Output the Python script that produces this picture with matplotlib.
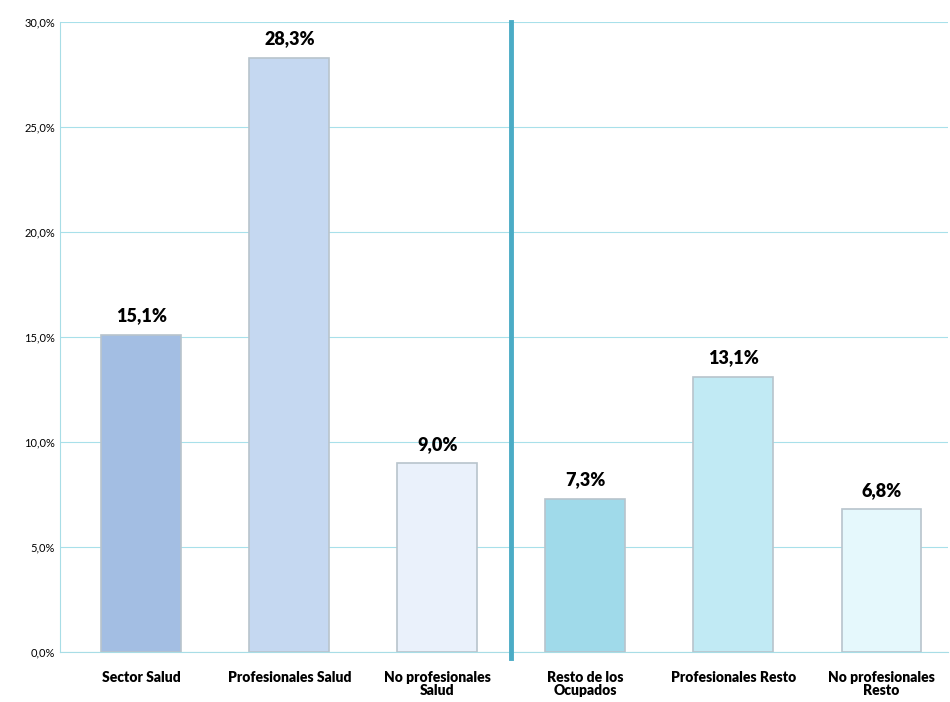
import matplotlib.pyplot as plt
from matplotlib.ticker import FuncFormatter

plt.rcParams['font.family'] = ['Lato', 'DejaVu Sans']

categorias = ['Sector Salud', 'Profesionales Salud', 'No profesionales\nSalud',
              'Resto de los\nOcupados', 'Profesionales Resto', 'No profesionales\nResto']
valores = [15.1, 28.3, 9.0, 7.3, 13.1, 6.8]
colores = ['#A3BEE3', '#C5D8F1', '#EAF1FB', '#A0DAEA', '#C1EAF4', '#E5F8FC']

fig = plt.figure(figsize=(9.5, 7.02), dpi=100)
ax = fig.add_axes([0.063, 0.0712, 0.935, 0.897])

x = range(len(valores))
ax.bar(x, valores, width=0.54, color=colores, edgecolor='#B8C4CC', linewidth=1.2, zorder=3)
for xi, v in zip(x, valores):
    ax.text(xi, v + 0.5, f'{v:.1f}%'.replace('.', ','), ha='center', va='bottom',
            fontsize=13, fontweight='heavy')

ax.axvline(2.5, ymin=-0.01, ymax=1, color='#4BACC6', linewidth=3.5, zorder=4, clip_on=False)

ax.set_xlim(-0.55, 5.45)
ax.set_ylim(0, 30)
ax.set_yticks([0, 5, 10, 15, 20, 25, 30])
ax.yaxis.set_major_formatter(FuncFormatter(lambda v, p: f'{v:.1f}%'.replace('.', ',')))
ax.set_xticks(list(x))
ax.set_xticklabels(categorias, fontsize=10, fontweight='heavy', linespacing=1.0)
ax.tick_params(axis='y', labelsize=8, length=0)
ax.tick_params(axis='x', length=0, pad=14)
ax.grid(axis='y', color='#A8E0EA', linewidth=0.8, zorder=0)
for s in ['top', 'right']:
    ax.spines[s].set_visible(False)
ax.spines['left'].set_color('#A8DDE6')
ax.spines['bottom'].set_color('#A8DDE6')

fig.savefig('out.png', dpi=100)
